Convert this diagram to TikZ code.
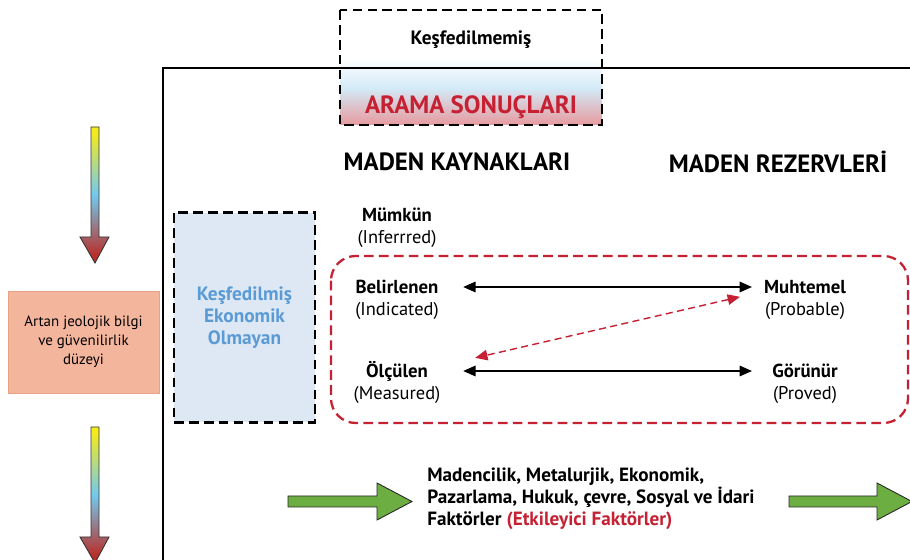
\documentclass[tikz,border=0pt]{standalone}
\usepackage{fontspec}
\setmainfont{PT Sans}
\usetikzlibrary{arrows.meta,positioning}

\definecolor{aramared}{HTML}{C52133}
\definecolor{kesifblue}{HTML}{5B9BD5}
\definecolor{kesiffill}{HTML}{DDE8F4}
\definecolor{artanfill}{HTML}{F3B59C}
\definecolor{artanline}{HTML}{E9A085}
\definecolor{faktorgreen}{HTML}{6CAE42}
\definecolor{jeoyellow}{HTML}{F4EB1C}
\definecolor{jeoblue}{HTML}{72C9EE}
\definecolor{jeored}{HTML}{B8302A}
\definecolor{aramapink}{HTML}{E59FA4}
\definecolor{aramablue}{HTML}{D3EAF7}

\pgfdeclareverticalshading{jeoshade}{100bp}{color(0bp)=(jeored); color(28bp)=(jeored); color(50bp)=(jeoblue); color(73bp)=(jeoyellow); color(100bp)=(jeoyellow)}
\pgfdeclareverticalshading{aramashade}{100bp}{color(0bp)=(aramapink); color(26bp)=(aramapink); color(41bp)=(aramablue); color(54bp)=(white); color(100bp)=(white)}

\tikzset{
  kutu/.style={draw, line width=1.6pt, dash pattern=on 5.5pt off 3pt},
  lname/.style={font=\fontsize{10.7}{12}\selectfont\bfseries, inner sep=0pt, minimum width=75pt},
  rname/.style={font=\fontsize{10.7}{12}\selectfont\bfseries, inner sep=0pt, minimum width=60pt},
  gloss/.style={font=\fontsize{10.5}{12}\selectfont, inner sep=0pt, anchor=base},
  baslik/.style={font=\fontsize{14.2}{16}\selectfont\bfseries, inner sep=0pt},
  ok/.style={{Triangle[length=7pt,width=6pt]}-{Triangle[length=7pt,width=6pt]}, line width=0.8pt},
  tahmin/.style={{Triangle[length=7pt,width=6pt]}-{Triangle[length=7pt,width=6pt]}, aramared, line width=0.8pt, dash pattern=on 4pt off 2.5pt, shorten <=7pt, shorten >=7pt}
}

\begin{document}
\begin{tikzpicture}[x=0.02cm, y=-0.02cm]
  \useasboundingbox (0,0) rectangle (910,560);
  \fill[white] (0,0) rectangle (910,560);

  % arama sonuclari kutusu
  \shade[shading=aramashade] (340,10) rectangle (602,125);
  \draw[line width=1.2pt] (163,560) -- (163,68) -- (910,68);
  \draw[kutu] (340,10) rectangle (602,125);
  \node[font=\fontsize{11}{12}\selectfont\bfseries] (kesfedilmemis) at (471,40) {Keşfedilmemiş};
  \node[font=\fontsize{14.2}{16}\selectfont\bfseries, text=aramared] (arama) at (471,107) {ARAMA SONUÇLARI};

  % sol taraf
  \shade[shading=jeoshade, draw=black!80, line width=0.5pt] (91,127) -- (99,127) -- (99,237) -- (109,237) -- (95,263) -- (80,237) -- (91,237) -- cycle;
  \shade[shading=jeoshade, draw=black!80, line width=0.5pt] (91,427) -- (99,427) -- (99,537) -- (109,537) -- (95,563) -- (80,537) -- (91,537) -- cycle;
  \node[draw=artanline, fill=artanfill, minimum width=3.02cm, minimum height=2.04cm, align=center,
        font=\fontsize{8.5}{10.8}\selectfont] (artan) at (83.5,342) {Artan jeolojik bilgi\\ve güvenilirlik\\düzeyi};
  \node[kutu, fill=kesiffill, minimum width=2.82cm, minimum height=4.2cm, align=center, text=kesifblue,
        font=\fontsize{11}{12.5}\selectfont\bfseries] (kesif) at (244.5,317.5) {Keşfedilmiş\\Ekonomik\\Olmayan};

  % basliklar
  \node[baslik] (kaynak) at (457,162) {MADEN KAYNAKLARI};
  \node[baslik] (rezerv) at (778,162) {MADEN REZERVLERİ};

  \node[lname] (mum) at (397,215) {Mümkün};
  \node[gloss] (mum-en) at ([yshift=-12.5pt]mum.base) {(Inferrred)};

  \draw[aramared, line width=1.3pt, dash pattern=on 5.5pt off 3pt, rounded corners=14pt] (331,256) rectangle (908,423);

  \node[lname] (bel) at (397,287) {Belirlenen};
  \node[gloss] (bel-en) at ([yshift=-12.5pt]bel.base) {(Indicated)};
  \node[lname] (olc) at (397,371) {Ölçülen};
  \node[gloss] (olc-en) at ([yshift=-12.5pt]olc.base) {(Measured)};
  \node[rname] (muh) at (805,287) {Muhtemel};
  \node[gloss] (muh-en) at ([yshift=-12.5pt]muh.base) {(Probable)};
  \node[rname] (gor) at (805,371) {Görünür};
  \node[gloss] (gor-en) at ([yshift=-12.5pt]gor.base) {(Proved)};

  \draw[ok] (bel) -- (muh);
  \draw[ok] (olc) -- (gor);
  \draw[tahmin] (muh.south west) -- (olc.north east);

  % etkileyici faktorler
  \path[fill=faktorgreen, draw=black!85, line width=0.5pt] (288,496) -- (377,496) -- (377,483) -- (412,501.5) -- (377,520) -- (377,507) -- (288,507) -- cycle;
  \path[fill=faktorgreen, draw=black!85, line width=0.5pt] (789,496) -- (877,496) -- (877,483) -- (912,501.5) -- (877,520) -- (877,507) -- (789,507) -- cycle;
  \node[anchor=west, align=left, inner sep=0pt, font=\fontsize{10.9}{12.5}\selectfont\bfseries] (faktor) at (427,499)
    {Madencilik, Metalurjik, Ekonomik,\\Pazarlama, Hukuk, çevre, Sosyal ve İdari\\Faktörler \textcolor{aramared}{(Etkileyici Faktörler)}};
\end{tikzpicture}
\end{document}
